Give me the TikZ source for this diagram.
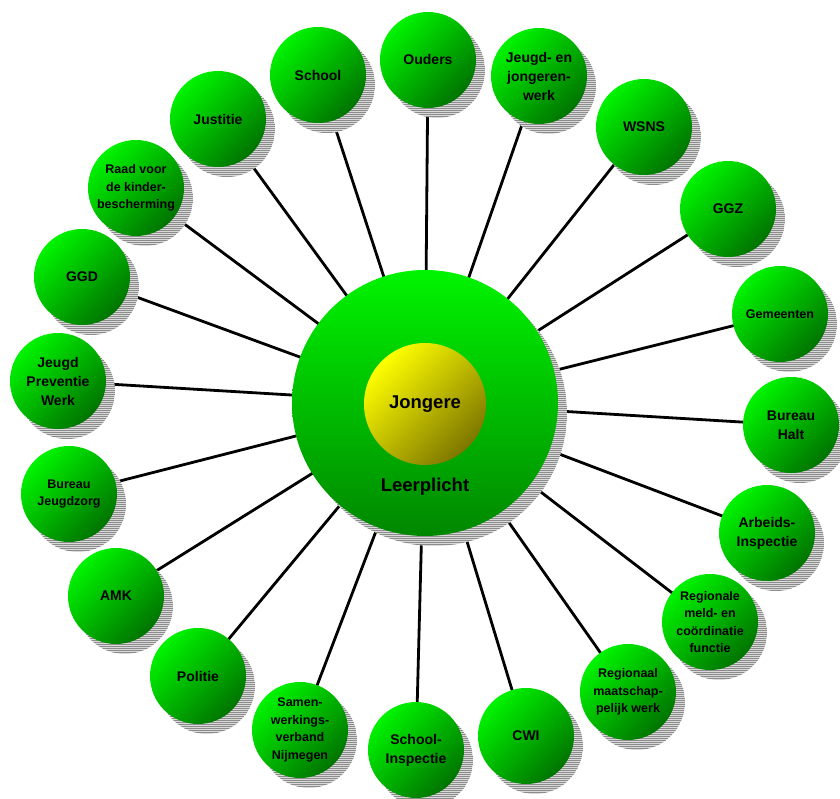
\documentclass[tikz,border=0pt]{standalone}
\usepackage{fontspec}
\setmainfont{Liberation Sans}
\usepackage{xcolor}
\usetikzlibrary{shadows,patterns.meta,backgrounds}
\definecolor{gLight}{RGB}{0,244,0}
\definecolor{gDark}{RGB}{0,116,0}
\definecolor{hubDark}{RGB}{0,135,0}
\definecolor{yLight}{RGB}{255,255,0}
\definecolor{yDark}{RGB}{125,118,0}
\newcommand{\txt}{\bfseries\fontsize{14}{19}\selectfont}
\newcommand{\smtxt}{\bfseries\fontsize{12.5}{17.4}\selectfont}
\newcommand{\bigtxt}{\bfseries\fontsize{18.5}{22}\selectfont}

\begin{document}
\begin{tikzpicture}[
  x=1pt,y=-1pt,
  blobshadow/.style={general shadow={shadow xshift=9pt,shadow yshift=-10pt,fill=gray!30,
    postaction={pattern={Lines[distance=2pt,line width=1pt]},pattern color=gray!90}}},
  unit/.style={circle,minimum size=96pt,inner sep=0pt,align=center,font=\txt,
    top color=gLight,bottom color=gDark,shading angle=45,blobshadow},
  hub/.style={unit,minimum size=266pt,bottom color=hubDark},
  core/.style={circle,minimum size=122pt,inner sep=0pt,font=\bigtxt,
    top color=yLight,bottom color=yDark,shading angle=45},
  link/.style={line width=2.8pt,black}
]
\useasboundingbox (0,0) rectangle (840,799);
\node[hub] (lp) at (425,403) {};
\node[font=\bigtxt] (lptxt) at (425,487) {Leerplicht};
\node[core] (jong) at (425,404) {Jongere};
\node[unit] (ouders) at (428,60) {Ouders};
\node[unit] (jjw) at (539,76) {Jeugd- en\\jongeren-\\werk};
\node[unit] (wsns) at (644,127) {WSNS};
\node[unit] (ggz) at (728,209) {GGZ};
\node[unit,font=\smtxt] (gem) at (780,314) {Gemeenten};
\node[unit] (halt) at (791,425) {Bureau\\Halt};
\node[unit] (arb) at (767,533) {Arbeids-\\Inspectie};
\node[unit,font=\smtxt] (rmc) at (710,622) {Regionale\\meld- en\\coördinatie\\functie};
\node[unit,font=\smtxt] (rmw) at (628,692) {Regionaal\\maatschap-\\pelijk werk};
\node[unit] (cwi) at (526,736) {CWI};
\node[unit] (insp) at (416,750) {School-\\Inspectie};
\node[unit,font=\smtxt] (swv) at (300,730) {Samen-\\werkings-\\verband\\Nijmegen};
\node[unit] (pol) at (198,676) {Politie};
\node[unit] (amk) at (116,596) {AMK};
\node[unit,font=\smtxt] (bjz) at (69,494) {Bureau\\Jeugdzorg};
\node[unit] (jpw) at (58,381) {Jeugd\\Preventie\\Werk};
\node[unit] (ggd) at (82,277) {GGD};
\node[unit,font=\smtxt] (raad) at (136,188) {Raad voor\\de kinder-\\bescherming};
\node[unit] (just) at (218,119) {Justitie};
\node[unit] (school) at (318,75) {School};
\begin{scope}[on background layer]
\draw[link] (lp.center)--(ouders.center);
\draw[link] (lp.center)--(jjw.center);
\draw[link] (lp.center)--(wsns.center);
\draw[link] (lp.center)--(ggz.center);
\draw[link] (lp.center)--(gem.center);
\draw[link] (lp.center)--(halt.center);
\draw[link] (lp.center)--(arb.center);
\draw[link] (lp.center)--(rmc.center);
\draw[link] (lp.center)--(rmw.center);
\draw[link] (lp.center)--(cwi.center);
\draw[link] (lp.center)--(insp.center);
\draw[link] (lp.center)--(swv.center);
\draw[link] (lp.center)--(pol.center);
\draw[link] (lp.center)--(amk.center);
\draw[link] (lp.center)--(bjz.center);
\draw[link] (lp.center)--(jpw.center);
\draw[link] (lp.center)--(ggd.center);
\draw[link] (lp.center)--(raad.center);
\draw[link] (lp.center)--(just.center);
\draw[link] (lp.center)--(school.center);
\end{scope}
\end{tikzpicture}
\end{document}
